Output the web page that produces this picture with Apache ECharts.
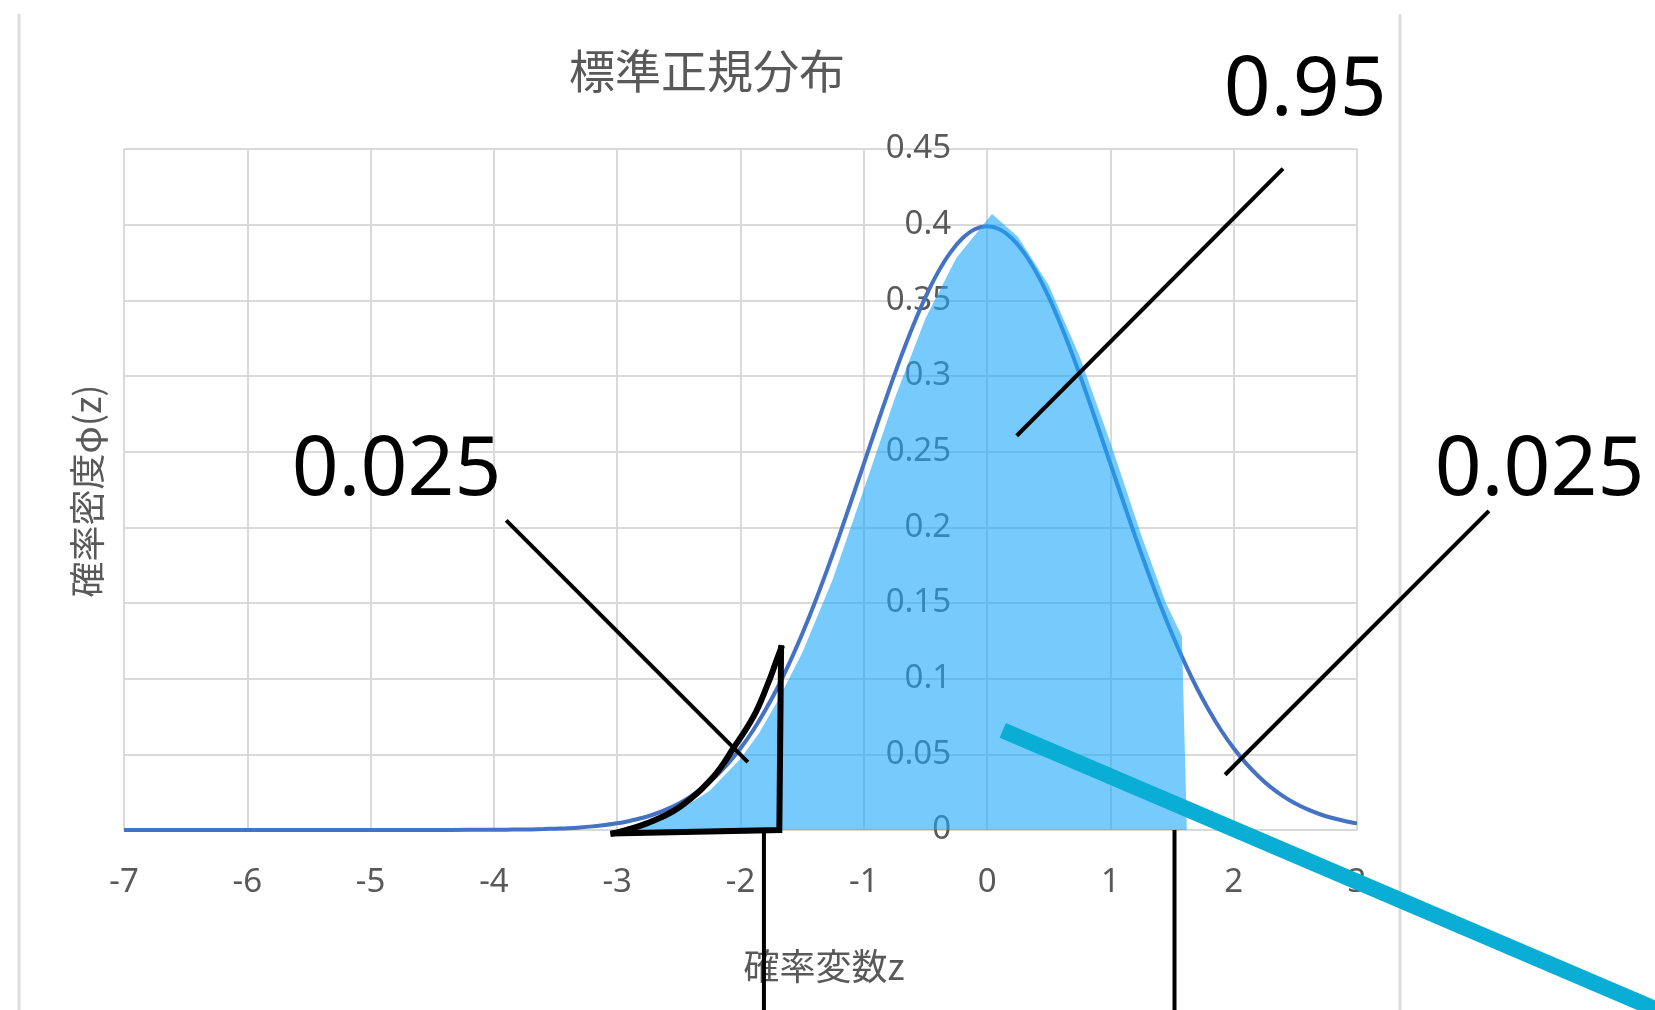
<!DOCTYPE html>
<html>
<head>
<meta charset="utf-8">
<script src="https://cdn.jsdelivr.net/npm/echarts@6/dist/echarts.min.js"></script>
<style>
  html, body { margin: 0; padding: 0; background: #ffffff; }
  #chart { width: 1655px; height: 1010px; }
</style>
</head>
<body>
<div id="chart"></div>
<script>
// 標準正規分布 φ(z): z from -7 to 3
const zValues = [-7, -6, -5, -4.5, -4.2, -4.0, -3.9, -3.8, -3.7, -3.6, -3.5, -3.4, -3.3, -3.2, -3.1,
  -3.0, -2.9, -2.8, -2.7, -2.6, -2.5, -2.4, -2.3, -2.2, -2.1, -2.0, -1.9, -1.8, -1.7, -1.6,
  -1.5, -1.4, -1.3, -1.2, -1.1, -1.0, -0.9, -0.8, -0.7, -0.6, -0.5, -0.4, -0.3, -0.2, -0.1,
  0, 0.1, 0.2, 0.3, 0.4, 0.5, 0.6, 0.7, 0.8, 0.9, 1.0, 1.1, 1.2, 1.3, 1.4,
  1.5, 1.6, 1.7, 1.8, 1.9, 2.0, 2.1, 2.2, 2.3, 2.4, 2.5, 2.6, 2.7, 2.8, 2.9, 3.0];
const densityValues = [0, 0, 0, 0, 0.0001, 0.0001, 0.0002, 0.0003, 0.0004, 0.0006, 0.0009, 0.0012, 0.0017, 0.0024, 0.0033,
  0.0044, 0.006, 0.0079, 0.0104, 0.0136, 0.0175, 0.0224, 0.0283, 0.0355, 0.044, 0.054, 0.0656, 0.079, 0.094, 0.1109,
  0.1295, 0.1497, 0.1714, 0.1942, 0.2179, 0.242, 0.2661, 0.2897, 0.3123, 0.3332, 0.3521, 0.3683, 0.3814, 0.391, 0.397,
  0.3989, 0.397, 0.391, 0.3814, 0.3683, 0.3521, 0.3332, 0.3123, 0.2897, 0.2661, 0.242, 0.2179, 0.1942, 0.1714, 0.1497,
  0.1295, 0.1109, 0.094, 0.079, 0.0656, 0.054, 0.044, 0.0355, 0.0283, 0.0224, 0.0175, 0.0136, 0.0104, 0.0079, 0.006, 0.0044];

// shaded region (hand-drawn highlight of the central area)
const shadedZ = [-2.95, -2.75, -2.5, -2.25, -2.0, -1.85, -1.7, -1.5, -1.25, -1.0, -0.75, -0.5, -0.25, 0.04,
  0.25, 0.5, 0.75, 1.0, 1.25, 1.45, 1.58, 1.62];
const shadedY = [0, 0.005, 0.013, 0.026, 0.047, 0.064, 0.085, 0.117, 0.166, 0.225, 0.285, 0.338, 0.378, 0.407,
  0.392, 0.36, 0.313, 0.256, 0.195, 0.15, 0.128, 0];

// left tail outline: curved edge, then straight edges back to the start
const tailCurve = [[-3.03, -0.0022], [-2.76, 0.0044], [-2.49, 0.0154], [-2.22, 0.0352], [-2.058, 0.054],
  [-1.895, 0.0749], [-1.787, 0.0947], [-1.706, 0.1124], [-1.671, 0.1201]];
const tailEdges = [[-1.671, 0.1201], [-1.685, 0], [-3.03, -0.0022]];

// annotation texts and their centres
const noteTexts = ['0.95', '0.025', '0.025'];
const notePositions = [[2.58, 0.488], [-4.79, 0.237], [4.48, 0.237]];

// pointer lines from the texts to the regions
const pointerLines = [
  [[2.4, 0.437], [0.24, 0.2605]],
  [[-3.9, 0.2046], [-1.94, 0.0449]],
  [[4.07, 0.2109], [1.93, 0.0365]]
];
// boundary marks under the axis
const boundaryLines = [
  [[-1.81, 0], [-1.81, -0.13]],
  [[1.52, 0], [1.52, -0.13]]
];
// thick teal stroke
const tealLine = [[[0.127, 0.0658], [5.6, -0.1246]]];

const xTickMin = -7, xTickMax = 3, xTickStep = 1;
const yTickMin = 0, yTickMax = 0.45, yTickStep = 0.05;

const gridColor = '#d9d9d9';
const labelColor = '#595959';

const gridLeft = 124, gridRight = 298;
const plotWidth = 1655 - gridLeft - gridRight;
// vertical axis sits on z = 0
const yAxisShift = plotWidth * (0 - xTickMin) / (xTickMax - xTickMin);

function segmentSeries(rows, color, width, z) {
  return {
    type: 'custom',
    coordinateSystem: 'cartesian2d',
    silent: true,
    clip: false,
    z: z,
    data: rows.map(r => [r[0][0], r[0][1], r[1][0], r[1][1]]),
    renderItem: function (params, api) {
      const a = api.coord([api.value(0), api.value(1)]);
      const b = api.coord([api.value(2), api.value(3)]);
      return {
        type: 'line',
        shape: { x1: a[0], y1: a[1], x2: b[0], y2: b[1] },
        style: { stroke: color, lineWidth: width, lineCap: 'butt' }
      };
    }
  };
}

const chart = echarts.init(document.getElementById('chart'), null, { renderer: 'canvas' });

chart.setOption({
  animation: false,
  backgroundColor: '#ffffff',
  grid: { left: gridLeft, top: 149, right: gridRight, bottom: 180, containLabel: false },
  xAxis: {
    type: 'value',
    min: xTickMin, max: xTickMax, interval: xTickStep,
    axisLine: { show: true, lineStyle: { color: gridColor, width: 2 } },
    axisTick: { show: false },
    splitLine: { show: true, lineStyle: { color: gridColor, width: 2 } },
    axisLabel: { color: labelColor, fontSize: 33, margin: 36, fontFamily: 'Noto Sans' }
  },
  yAxis: {
    type: 'value',
    position: 'left',
    offset: -yAxisShift,
    min: yTickMin, max: yTickMax, interval: yTickStep,
    axisLine: { show: true, onZero: false, lineStyle: { color: gridColor, width: 2 } },
    axisTick: { show: false },
    splitLine: { show: true, lineStyle: { color: gridColor, width: 2 } },
    axisLabel: { color: labelColor, fontSize: 33, margin: 36, fontFamily: 'Noto Sans' }
  },
  graphic: [
    { type: 'line', silent: true, shape: { x1: 19, y1: 14, x2: 19, y2: 1010 }, style: { stroke: '#dcdcdc', lineWidth: 3 } },
    { type: 'line', silent: true, shape: { x1: 1400, y1: 14, x2: 1400, y2: 1010 }, style: { stroke: '#dcdcdc', lineWidth: 3 } },
    {
      type: 'text', x: 707, y: 71, silent: true,
      style: { text: '標準正規分布', fill: labelColor, fontSize: 46, fontFamily: 'Noto Sans CJK JP',
        align: 'center', verticalAlign: 'middle', textAlign: 'center', textVerticalAlign: 'middle' }
    },
    {
      type: 'text', x: 824, y: 966, silent: true,
      style: { text: '確率変数z', fill: labelColor, fontSize: 36, fontFamily: 'Noto Sans CJK JP',
        align: 'center', verticalAlign: 'middle', textAlign: 'center', textVerticalAlign: 'middle' }
    },
    {
      type: 'text', x: 87, y: 491, rotation: Math.PI / 2, silent: true,
      style: { text: '確率密度φ(z)', fill: labelColor, fontSize: 36, fontFamily: 'Noto Sans CJK JP',
        align: 'center', verticalAlign: 'middle', textAlign: 'center', textVerticalAlign: 'middle' }
    }
  ],
  series: [
    {
      name: 'φ(z)',
      type: 'line',
      data: zValues.map((z, i) => [z, densityValues[i]]),
      smooth: 0.3,
      showSymbol: false,
      symbol: 'none',
      silent: true,
      z: 2,
      lineStyle: { color: '#4472C4', width: 4 }
    },
    {
      name: '面積',
      type: 'line',
      data: shadedZ.map((z, i) => [z, shadedY[i]]),
      smooth: false,
      symbol: 'none',
      silent: true,
      z: 3,
      lineStyle: { width: 0, opacity: 0 },
      areaStyle: { color: 'rgb(27,168,250)', opacity: 0.6, origin: 'start' }
    },
    {
      type: 'custom',
      coordinateSystem: 'cartesian2d',
      silent: true,
      clip: false,
      z: 4,
      data: [tailCurve[0]],
      renderItem: function (params, api) {
        const curvePts = tailCurve.map(p => api.coord(p));
        const edgePts = tailEdges.map(p => api.coord(p));
        return {
          type: 'group',
          children: [
            { type: 'polyline', shape: { points: curvePts, smooth: 0.4 },
              style: { stroke: '#000', lineWidth: 6, fill: null, lineJoin: 'miter', lineCap: 'square' } },
            { type: 'polyline', shape: { points: edgePts },
              style: { stroke: '#000', lineWidth: 6, fill: null, lineJoin: 'miter', lineCap: 'square' } }
          ]
        };
      }
    },
    segmentSeries(pointerLines, '#000000', 4, 5),
    segmentSeries(boundaryLines, '#000000', 4, 5),
    segmentSeries(tealLine, '#0aaed5', 16, 6),
    {
      type: 'custom',
      coordinateSystem: 'cartesian2d',
      silent: true,
      clip: false,
      z: 7,
      data: notePositions,
      renderItem: function (params, api) {
        const p = api.coord([api.value(0), api.value(1)]);
        return {
          type: 'text',
          x: p[0], y: p[1],
          style: {
            text: noteTexts[params.dataIndex], fill: '#000000', fontSize: 82, fontFamily: 'Noto Sans',
            align: 'center', verticalAlign: 'middle', textAlign: 'center', textVerticalAlign: 'middle'
          }
        };
      }
    }
  ]
});
</script>
</body>
</html>
